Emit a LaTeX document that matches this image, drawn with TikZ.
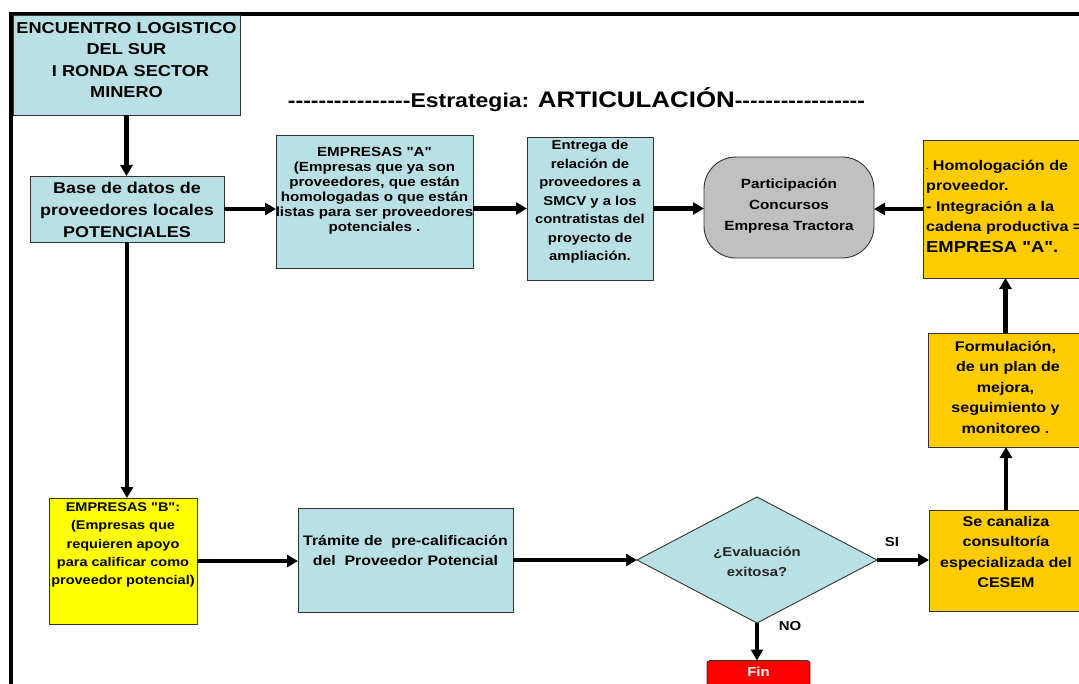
\documentclass[tikz,border=0pt]{standalone}
\usepackage{fontspec}
\newfontfamily\lsans{Liberation Sans}[FakeStretch=1.15]
\usetikzlibrary{shapes.geometric,arrows.meta}
\definecolor{lblue}{RGB}{185,224,228}
\definecolor{gold}{RGB}{255,204,0}
\definecolor{pgray}{RGB}{192,192,192}
\definecolor{byellow}{RGB}{255,255,0}
\definecolor{bred}{RGB}{255,0,0}
\newcommand\myfs[2]{\lsans\fontsize{#1bp}{#2bp}\selectfont\bfseries}
\begin{document}
\begin{tikzpicture}[x=1bp,y=-1bp,
  box/.style={draw=black!80, line width=0.9bp, inner sep=0pt, outer sep=0pt},
  bl/.style={box, fill=lblue},
  gd/.style={box, fill=gold},
  txt/.style={align=center, inner sep=0pt},
  arr/.style={line width=4.2bp, -{Triangle[length=11bp,width=12bp]}},
]
\useasboundingbox (0,0) rectangle (1079,684);
\fill[white] (0,0) rectangle (1079,684);
\draw[line width=3.2bp] (11,690) -- (11,14) -- (1090,14);

% title box
\node[bl, minimum width=227bp, minimum height=100bp] (title) at (126.5,65) {};
\node[txt, font=\myfs{15.8}{21.5}] (titleT) at (126.5,60) {ENCUENTRO LOGISTICO\\DEL SUR\\\hspace*{8bp}I RONDA SECTOR\\MINERO};

% heading
\node[txt] (head) at (576.5,100) {\myfs{20}{24}----------------Estrategia: {\myfs{22.5}{24}ARTICULACIÓN}-----------------};

% base
\node[bl, minimum width=194bp, minimum height=66bp] (base) at (127,209) {};
\node[txt, font=\myfs{15.6}{22}] (baseT) at (127,210) {Base de datos de\\proveedores locales\\POTENCIALES};

% empresas A
\node[bl, minimum width=197bp, minimum height=133bp] (empA) at (374.5,201.5) {};
\node[txt, font=\myfs{13.2}{15}] (empAT) at (374.5,191) {EMPRESAS "A"\\(Empresas que ya son\\proveedores, que están\\homologadas o que están\\listas para ser proveedores\\potenciales .};

% entrega
\node[bl, minimum width=126bp, minimum height=143bp] (entrega) at (590,208.5) {};
\node[txt, font=\myfs{12.9}{18.5}] (entregaT) at (590,202) {Entrega de\\relación de\\proveedores a\\SMCV y a los\\contratistas del\\proyecto de\\ampliación.};

% participacion
\node[box, fill=pgray, rounded corners=32bp, minimum width=170bp, minimum height=101bp] (part) at (789,207.5) {};
\node[txt, font=\myfs{13.3}{21}] (partT) at (789,206) {Participación\\Concursos\\Empresa Tractora};

% homologacion
\node[gd, minimum width=167bp, minimum height=138bp] (homol) at (1006.5,209) {};
\node[txt, align=left, anchor=west, font=\myfs{14}{20.5}] (homolT) at (926,206) {{\fontsize{6bp}{6bp}\selectfont -} Homologación de\\proveedor.\\- Integración a la\\cadena productiva =\\{\fontsize{16bp}{20.5bp}\selectfont EMPRESA "A".}};

% formulacion
\node[gd, minimum width=155bp, minimum height=114bp] (form) at (1005.5,390) {};
\node[txt, font=\myfs{14}{20.5}] (formT) at (1005.5,387) {Formulación,\\\hspace*{5bp}de un plan de\\mejora,\\seguimiento y\\monitoreo .};

% cesem
\node[gd, minimum width=154bp, minimum height=101bp] (cesem) at (1006,560.5) {};
\node[txt, font=\myfs{14}{20.5}] (cesemT) at (1006,552) {Se canaliza\\consultoría\\especializada del\\CESEM};

% empresas B
\node[box, fill=byellow, minimum width=148bp, minimum height=126bp] (empB) at (123,561) {};
\node[txt, font=\myfs{12.6}{18.3}] (empBT) at (123,545) {EMPRESAS "B":\\(Empresas que\\requieren apoyo\\para calificar como\\proveedor potencial)};

% tramite
\node[bl, minimum width=215bp, minimum height=104bp] (tram) at (405.5,560) {};
\node[txt, font=\myfs{13.8}{20}] (tramT) at (405.5,551) {Trámite de\ \ pre-calificación\\del\ \ Proveedor Potencial};

% diamond
\node[bl, diamond, aspect=1.9, minimum width=240bp, minimum height=126bp] (dia) at (757,560) {};
\node[txt, text=black!85, font=\myfs{12.9}{20}] (diaT) at (757,562) {¿Evaluación\\exitosa?};

% fin
\node[box, fill=bred, rounded corners=3bp, minimum width=103bp, minimum height=40bp] (fin) at (758.5,680.5) {};
\node[txt, text=white, font=\myfs{13}{15}] (finT) at (758.5,672) {Fin};

% labels
\node[txt, font=\myfs{13}{15}] (si) at (892,542) {SI};
\node[txt, font=\myfs{13}{15}] (no) at (790,626) {NO};

% arrows
\draw[arr] (title.south) -- (title.south |- base.north);
\draw[arr] (base.east) -- (base.east -| empA.west);
\draw[arr] (empA.east |- entrega.west) -- (entrega.west);
\draw[arr] (entrega.east) -- (entrega.east -| part.west);
\draw[arr] (homol.west) -- (homol.west -| part.east);
\draw[arr] (form.north) -- (form.north |- homol.south);
\draw[arr] (cesem.north) -- (cesem.north |- form.south);
\draw[arr] (dia.east) -- (dia.east -| cesem.west);
\draw[arr] (dia.south) -- (dia.south |- fin.north);
\draw[arr] (tram.east) -- (dia.west);
\draw[arr] (empB.east) -- (empB.east -| tram.west);
\draw[arr] (base.south) -- (base.south |- empB.north);
\end{tikzpicture}
\end{document}
